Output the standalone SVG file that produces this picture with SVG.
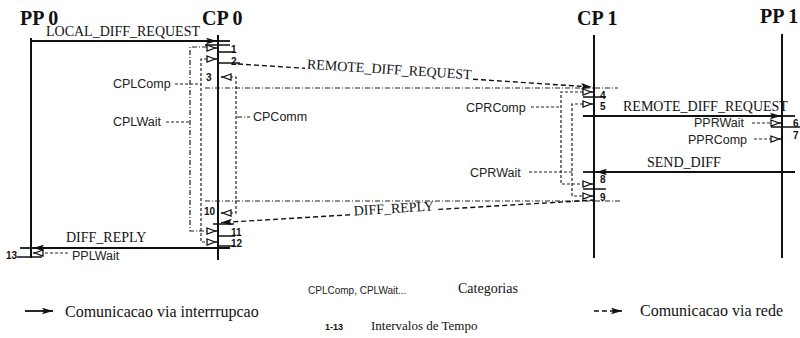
<svg xmlns="http://www.w3.org/2000/svg" width="800" height="338" viewBox="0 0 800 338">
<style>
.t{font-family:"Liberation Serif",serif;font-weight:bold;font-size:20px;fill:#111}
.s{font-family:"Liberation Serif",serif;font-size:14px;fill:#111}
.c{font-family:"Liberation Sans",sans-serif;font-size:12.5px;fill:#222}
.n{font-family:"Liberation Sans",sans-serif;font-weight:bold;font-size:10px;fill:#111}
.lg{font-family:"Liberation Serif",serif;font-size:16px;fill:#111}
.life{stroke:#111;stroke-width:2;fill:none}
.msg{stroke:#111;stroke-width:1.8;fill:none}
.net{stroke:#111;stroke-width:1.4;stroke-dasharray:5 3;fill:none}
.dd{stroke:#222;stroke-width:1.2;stroke-dasharray:5 2 1 2;fill:none}
.ds{stroke:#222;stroke-width:1.2;stroke-dasharray:3 2;fill:none}
.tick{stroke:#111;stroke-width:1.4;fill:none}
.hm{fill:#fff;stroke:#111;stroke-width:1.3}
</style>
<defs>
<marker id="ah" viewBox="0 0 10 6" refX="10" refY="3" markerWidth="11" markerHeight="7" markerUnits="userSpaceOnUse" orient="auto"><path d="M0,0 L10,3 L0,6 L2,3 Z" fill="#111"/></marker>
<g id="hr"><path class="hm" d="M-10,-3 L-2,0 L-10,3 Z"/><line x1="-2" y1="0" x2="0" y2="0" stroke="#111" stroke-width="1.3"/></g>
<g id="hl"><path class="hm" d="M10,-3 L2,0 L10,3 Z"/><line x1="2" y1="0" x2="0" y2="0" stroke="#111" stroke-width="1.3"/></g>
</defs>

<g id="pp0">
<text class="t" x="20" y="25">PP 0</text>
<line class="life" x1="31" y1="38" x2="31" y2="258"/>
</g>
<g id="cp0">
<text class="t" x="202" y="25">CP 0</text>
<line class="life" x1="218" y1="35" x2="218" y2="260"/>
</g>
<g id="cp1">
<text class="t" x="577" y="25">CP 1</text>
<line class="life" x1="594" y1="35" x2="594" y2="258"/>
</g>
<g id="pp1">
<text class="t" x="760" y="23">PP 1</text>
<line class="life" x1="782" y1="34" x2="782" y2="258"/>
</g>

<g id="connectors">
<line class="msg" x1="31" y1="41" x2="217" y2="41" marker-end="url(#ah)"/>
<line class="msg" x1="217" y1="41" x2="230" y2="41"/>
<text class="s" x="46" y="36">LOCAL_DIFF_REQUEST</text>

<path class="net" d="M238,64 L305,68.3"/>
<path class="net" d="M473,79.2 L592,87" marker-end="url(#ah)"/>
<text class="s" x="389" y="74" text-anchor="middle" transform="rotate(3.7 389 74)">REMOTE_DIFF_REQUEST</text>

<line class="msg" x1="583" y1="116" x2="781" y2="116" marker-end="url(#ah)"/>
<line class="msg" x1="781" y1="116" x2="795" y2="116"/>
<text class="s" x="623" y="111">REMOTE_DIFF_REQUEST</text>

<line class="msg" x1="795" y1="172" x2="596" y2="172" marker-end="url(#ah)"/>
<line class="msg" x1="596" y1="172" x2="583" y2="172"/>
<text class="s" x="647" y="167">SEND_DIFF</text>

<path class="net" d="M595,200 L437,209.5"/>
<path class="net" d="M350,214.8 L221,222.6" marker-end="url(#ah)"/>
<text class="s" x="394" y="213" text-anchor="middle" transform="rotate(-3.45 394 213)">DIFF_REPLY</text>

<line class="msg" x1="230" y1="248" x2="33" y2="248" marker-end="url(#ah)"/>
<line class="msg" x1="33" y1="248" x2="20" y2="248"/>
<text class="s" x="66" y="242">DIFF_REPLY</text>

<path class="dd" d="M207,47 H190 V231 H207"/>
<path class="ds" d="M207,59 H201 V242 H207"/>
<path class="ds" d="M230,77 H236 V213 H230"/>
<path class="dd" d="M205,88 H618"/>
<path class="dd" d="M205,201 H620"/>
<path class="ds" d="M583,92 H561 V184 H583"/>
<path class="ds" d="M583,104 H572 V196 H583"/>

<path class="ds" d="M175,84 H201"/>
<path class="ds" d="M166,122 H190"/>
<path class="dd" d="M237,117 H250"/>
<path class="ds" d="M531,107 H561"/>
<path class="ds" d="M529,172 H572"/>
<path class="ds" d="M752,123 H771"/>
<path class="ds" d="M754,139 H771"/>
<path class="ds" d="M45,253 H68"/>

<path class="tick" d="M205,45 H230 M218,52 H234 M218,63 H240 M213,224 H234 M218,236 H235 M218,246 H235 M17,257 H42 M583,97 H606 M583,189 H606 M771,127 H800"/>

<use href="#hr" x="217" y="48"/>
<use href="#hr" x="217" y="59"/>
<use href="#hl" x="221" y="77"/>
<use href="#hl" x="221" y="213"/>
<use href="#hr" x="217" y="231"/>
<use href="#hr" x="217" y="242"/>
<use href="#hl" x="33" y="253"/>
<use href="#hr" x="593" y="92"/>
<use href="#hr" x="593" y="104"/>
<use href="#hr" x="593" y="184"/>
<use href="#hr" x="593" y="196"/>
<use href="#hr" x="781" y="123"/>
<use href="#hr" x="781" y="139"/>
</g>

<g id="numbers">
<text class="n" x="231" y="53">1</text>
<text class="n" x="231" y="65">2</text>
<text class="n" x="206" y="81">3</text>
<text class="n" x="204" y="215">10</text>
<text class="n" x="231" y="236">11</text>
<text class="n" x="231" y="247">12</text>
<text class="n" x="6" y="259">13</text>
<text class="n" x="600" y="99">4</text>
<text class="n" x="600" y="110">5</text>
<text class="n" x="793" y="127">6</text>
<text class="n" x="793" y="139">7</text>
<text class="n" x="600" y="183">8</text>
<text class="n" x="600" y="201">9</text>
</g>

<g id="categories">
<text class="c" x="113" y="88">CPLComp</text>
<text class="c" x="113" y="126">CPLWait</text>
<text class="c" x="253" y="121">CPComm</text>
<text class="c" x="466" y="112">CPRComp</text>
<text class="c" x="470" y="177">CPRWait</text>
<text class="c" x="694" y="127">PPRWait</text>
<text class="c" x="688" y="144">PPRComp</text>
<text class="c" x="72" y="260">PPLWait</text>
</g>

<g id="legend">
<text class="c" x="308" y="294" style="font-size:10px">CPLComp, CPLWait...</text>
<text class="s" x="458" y="293">Categorias</text>
<line class="msg" x1="25" y1="311" x2="53" y2="311" marker-end="url(#ah)"/>
<text class="lg" x="65" y="317">Comunicacao via interrrupcao</text>
<line class="net" x1="594" y1="311" x2="622" y2="311" marker-end="url(#ah)"/>
<text class="lg" x="640" y="316">Comunicacao via rede</text>
<text class="n" x="325" y="330" style="font-size:9px">1-13</text>
<text class="s" x="371" y="330" style="font-size:13px">Intervalos de Tempo</text>
</g>
</svg>
